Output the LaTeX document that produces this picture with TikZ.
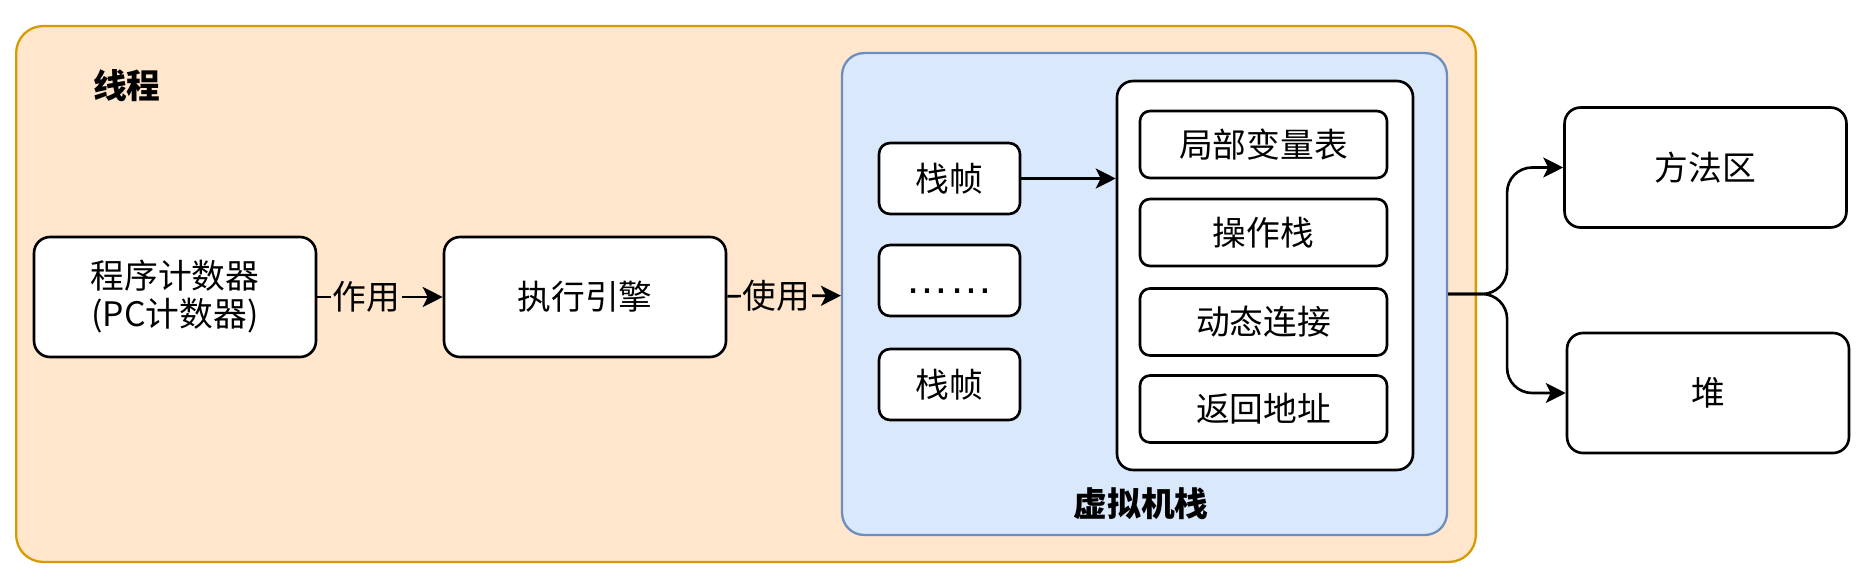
\documentclass[tikz,border=0pt]{standalone}
\usepackage{fontspec}
\setmainfont{Noto Sans CJK SC}
\newfontfamily\dotfont{Liberation Sans}
\usetikzlibrary{arrows.meta}
\definecolor{threadfill}{HTML}{FFE6CC}
\definecolor{threadline}{HTML}{D79B00}
\definecolor{stackfill}{HTML}{DAE8FC}
\definecolor{stackline}{HTML}{6C8EBF}

\begin{document}
\begin{tikzpicture}[x=0.02cm, y=-0.02cm,
    font=\fontsize{19.2}{21.6}\selectfont,
    block/.style={draw, line width=1.5pt, fill=white, rounded corners=0.32cm,
        minimum width=5.64cm, minimum height=2.4cm, align=center, inner sep=0pt},
    frame/.style={block, rounded corners=0.22cm, minimum width=2.82cm, minimum height=1.42cm},
    slot/.style={block, rounded corners=0.2cm, minimum width=4.94cm, minimum height=1.34cm},
    link/.style={-{Stealth[length=0.4cm, width=0.4cm, inset=0.1cm]}, line width=1.5pt}]
\useasboundingbox (0,0) rectangle (1862,578);

% thread and JVM stack containers
\node[draw=threadline, fill=threadfill, line width=1.3pt, rounded corners=0.54cm,
    minimum width=29.2cm, minimum height=10.72cm] (thread) at (746,294) {};
\node[anchor=west] (threadlabel) at (87,86) {\bfseries 线程};
\node[draw=stackline, fill=stackfill, line width=1.3pt, rounded corners=0.44cm,
    minimum width=12.1cm, minimum height=9.64cm] (vm) at (1144.5,294) {};
\node (vmlabel) at (1141,504) {\bfseries 虚拟机栈};

% left part
\node[block] (pc) at (175,297) {程序计数器\\(PC计数器)};
\node[block] (engine) at (585,297) {执行引擎};

% stack frames
\node[frame] (frame1) at (949.5,178.5) {栈帧};
\node[frame] (frame2) at (949.5,280.5)
    {\vphantom{栈}\dotfont\fontsize{25}{26}\selectfont ……};
\node[frame] (frame3) at (949.5,384.5) {栈帧};
\node[block, minimum width=5.92cm, minimum height=7.78cm] (detail) at (1265,275.5) {};
\node[slot] (locals) at (1263.5,144.5) {局部变量表};
\node[slot] (operands) at (1263.5,232.5) {操作栈};
\node[slot] (dynlink) at (1263.5,322) {动态连接};
\node[slot] (retaddr) at (1263.5,409) {返回地址};

% shared areas
\node[block] (method) at (1705.5,167.5) {方法区};
\node[block] (heap) at (1708,393) {堆};

\draw[link] (pc) -- node[pos=0.39, fill=threadfill, inner sep=1pt] {作用} (engine);
\draw[link] (engine) -- node[pos=0.435, fill=threadfill, inner sep=1pt] {使用} (vm);
\draw[link] (frame1.east) -- (frame1.east -| detail.west);
\draw[link, rounded corners=0.5cm] (vm.east) -- ++(59,0) |- (method.west);
\draw[link, rounded corners=0.5cm] (vm.east) -- ++(59,0) |- (heap.west);
\end{tikzpicture}
\end{document}
